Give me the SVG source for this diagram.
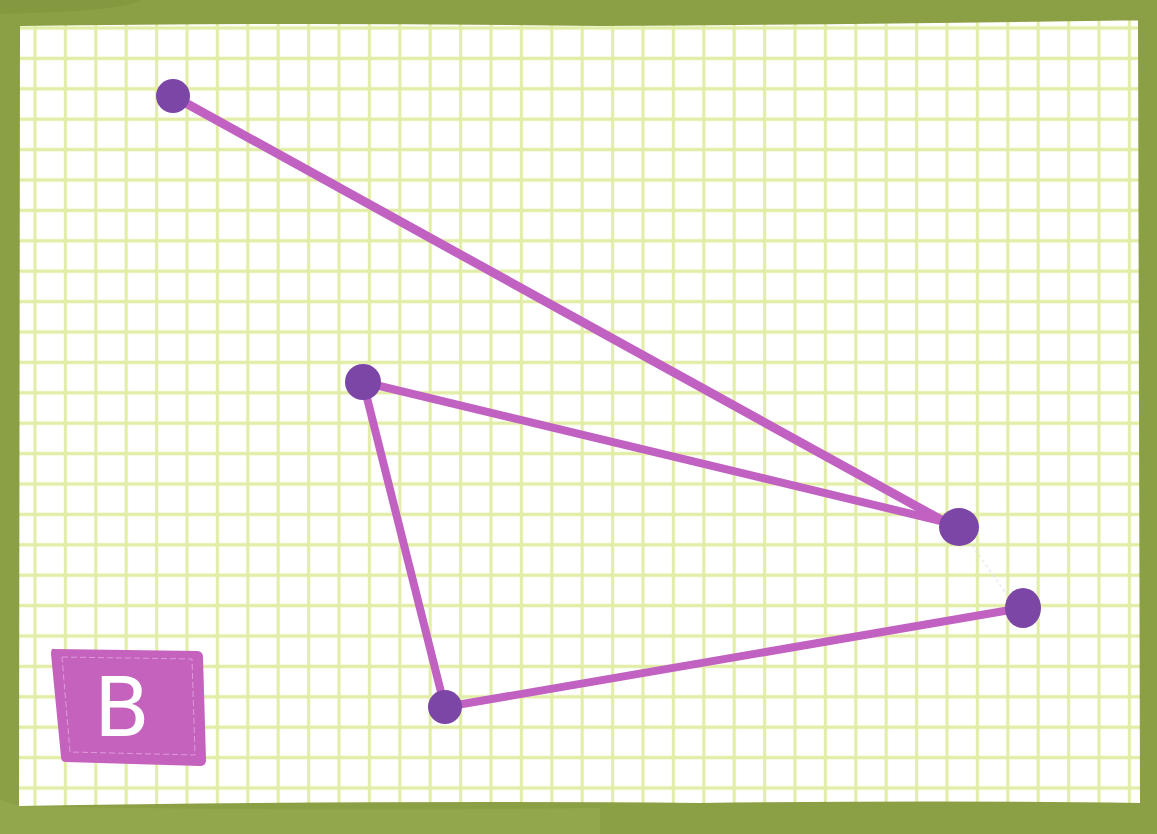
<svg xmlns="http://www.w3.org/2000/svg" width="1157" height="834" viewBox="0 0 1157 834">
<defs>
<pattern id="grid" x="19.8" y="12.8" width="30.4" height="30.4" patternUnits="userSpaceOnUse">
<path d="M15.2 0V30.4M0 15.2H30.4" fill="none" stroke="#e2eea8" stroke-width="3.2"/>
</pattern>
<style>
.edge{stroke:#c162c2;stroke-width:8;stroke-linecap:round;fill:none}
.node{fill:#7c46a6}
.frame{fill:#8b9f45}
</style>
</defs>
<rect width="1157" height="834" fill="#ffffff"/>
<rect width="1157" height="834" fill="url(#grid)"/>
<g id="frame">
<path class="frame" d="M0 0H1157V20Q900 24 600 26Q300 22 20 26L19 806Q400 800 700 803Q950 800 1140 803L1138 20H1157V834H0Z"/>
<path d="M0 0H140Q130 8 60 12L0 14Z" fill="#84993f"/>
<path d="M20 806Q300 812 600 808L600 834H0V800Z" fill="#92a74b"/>
</g>
<g id="connectors">
<line class="edge" x1="173" y1="96" x2="945" y2="522" style="stroke-width:9"/>
<line class="edge" x1="363" y1="382" x2="945" y2="522"/>
<line class="edge" x1="363" y1="382" x2="443" y2="700"/>
<line class="edge" x1="445" y1="707" x2="1010" y2="610"/>
<line x1="972" y1="545" x2="1005" y2="592" stroke="#e8e0f0" stroke-width="2" stroke-dasharray="3 3" opacity="0.6"/>
</g>
<g id="node-a"><circle class="node" cx="173" cy="96" r="17"/></g>
<g id="node-b"><circle class="node" cx="363" cy="382" r="18"/></g>
<g id="node-c"><ellipse class="node" cx="959" cy="527" rx="20" ry="19"/></g>
<g id="node-d"><ellipse class="node" cx="1023" cy="608" rx="18" ry="20"/></g>
<g id="node-e"><circle class="node" cx="445" cy="707" r="17"/></g>
<g id="label-b">
<path d="M54 649L198 651Q203 652 203 657L206 760Q206 766 200 766L66 762Q61 762 61 757L51 654Q51 648 54 649Z" fill="#c462bd"/>
<path d="M62 657L192 659L195 755L70 752Z" fill="none" stroke="#e6a8e2" stroke-width="0.8" stroke-dasharray="6 3"/>
<text x="122" y="736" font-family="'DejaVu Sans', sans-serif" font-size="82" fill="#ffffff" text-anchor="middle">B</text>
</g>
</svg>
